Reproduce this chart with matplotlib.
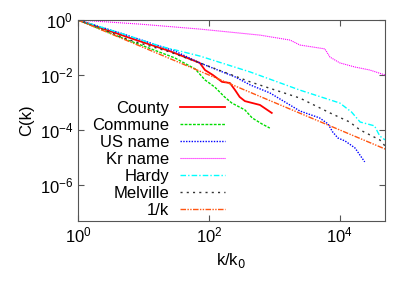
import numpy as np
import matplotlib
matplotlib.use('Agg')
import matplotlib.pyplot as plt

plt.rcParams['font.family'] = ['Liberation Sans', 'DejaVu Sans']

# log10(k/k0), log10(C)
county_lx = [0, 0.79, 1.40, 1.86, 1.94, 2.06, 2.20, 2.32, 2.40, 2.47, 2.55, 2.78, 2.96]
county_ly = [0, -0.65, -1.13, -1.56, -1.82, -2.0, -2.25, -2.29, -2.55, -2.80, -2.95, -3.09, -3.38]

commune_lx = [0, 0.64, 1.48, 1.79, 1.94, 2.09, 2.24, 2.35, 2.55, 2.66, 2.81, 2.93]
commune_ly = [0, -0.62, -1.38, -1.78, -2.18, -2.44, -2.8, -3.02, -3.27, -3.56, -3.78, -3.93]

usname_lx = [0, 0.64, 1.48, 1.86, 2.40, 2.63, 2.93, 3.39, 3.69, 3.82, 3.89, 3.97, 4.08, 4.23, 4.38]
usname_ly = [0, -0.47, -1.13, -1.56, -2.07, -2.36, -2.65, -3.31, -3.56, -3.78, -4.07, -4.29, -4.40, -4.65, -5.16]

krname_lx = [0, 0.95, 1.86, 2.78, 3.24, 3.39, 3.77, 3.85, 4.0, 4.23, 4.46, 4.69]
krname_ly = [0, -0.15, -0.33, -0.55, -0.73, -0.91, -1.05, -1.35, -1.56, -1.71, -1.82, -2.0]

hardy_lx = [0, 0.64, 1.25, 1.86, 2.63, 3.39, 4.0, 4.18, 4.31, 4.53, 4.61, 4.69]
hardy_ly = [0, -0.47, -0.95, -1.31, -1.89, -2.55, -3.02, -3.35, -3.71, -3.85, -4.22, -4.36]

melville_lx = [0, 0.79, 1.40, 1.86, 2.63, 3.39, 3.85, 4.15, 4.31, 4.46, 4.61, 4.69]
melville_ly = [0, -0.73, -1.16, -1.56, -2.25, -2.84, -3.38, -3.71, -4.0, -4.18, -4.36, -4.58]

ref_k = [1, 5e4]

fig = plt.figure(figsize=(4.15, 2.91), dpi=100)
ax = fig.add_axes([78 / 415, 1 - 221 / 291, 307 / 415, 201 / 291])

def p(v):
    return 10 ** np.array(v)

ax.plot(p(county_lx), p(county_ly), color='#ff0000', lw=1.3, ls='-', label='County')
ax.plot(p(commune_lx), p(commune_ly), color='#00dd00', lw=1.0, ls=(0, (2, 1)), label='Commune')
ax.plot(p(usname_lx), p(usname_ly), color='#0000ff', lw=1.0, ls=(0, (1, 1)), label='US name')
ax.plot(p(krname_lx), p(krname_ly), color='#ff00ff', lw=0.8, ls=(0, (1, 0.8)), label='Kr name')
ax.plot(p(hardy_lx), p(hardy_ly), color='#00ffff', lw=1.0, ls=(0, (4, 1.5, 1, 1.5)), label='Hardy')
ax.plot(p(melville_lx), p(melville_ly), color='#333333', lw=1.0, ls=(0, (1.5, 3)), label='Melville')
ax.plot(ref_k, [1 / k for k in ref_k], color='#ff5511', lw=1.0, ls=(0, (4, 1, 1, 1, 1, 1)), label='1/k')

ax.set_xscale('log')
ax.set_yscale('log')
ax.set_xlim(1, 10 ** 4.69)
ax.set_ylim(10 ** -7.31, 1)
ax.set_xticks([1, 1e2, 1e4])
ax.set_yticks([1, 1e-2, 1e-4, 1e-6])
ax.minorticks_off()
ax.tick_params(direction='in', top=True, right=True, labelsize=12, length=4, color='#555555')
for s in ax.spines.values():
    s.set_color('#555555')

ax.set_xlabel('k/k$_0$', fontsize=12)
ax.set_ylabel('C(k)', fontsize=12)

ax.legend(loc='lower left', bbox_to_anchor=(0.046, 0.015), frameon=False, markerfirst=False,
          fontsize=12, handlelength=2.7, labelspacing=0.12, borderaxespad=0, borderpad=0,
          handletextpad=0.65)

fig.savefig('out.png', dpi=100)
